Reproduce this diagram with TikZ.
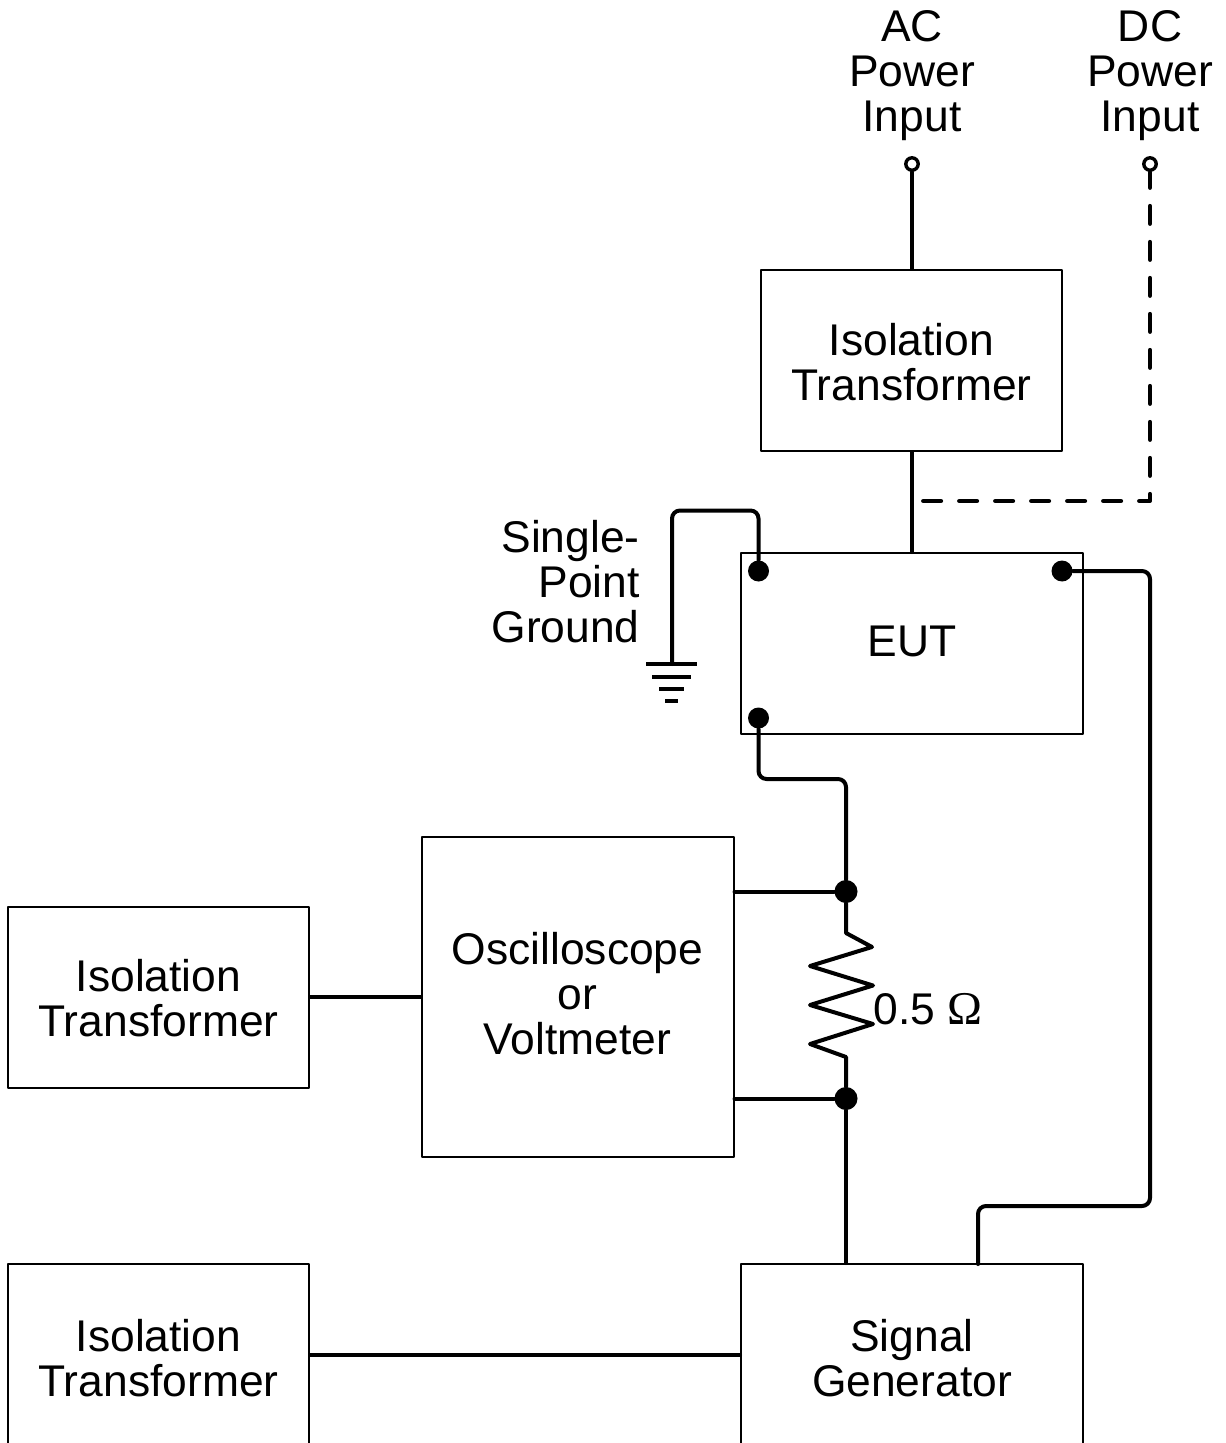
\documentclass[tikz,border=0pt]{standalone}
\usepackage{fontspec}
\setmainfont{Liberation Sans}
\newfontfamily\omegafont{Liberation Serif}
\tikzset{
    unitbox/.style={draw, line width=1pt, inner sep=0pt, align=center, font=\fontsize{22.2}{22.5}\selectfont},
    isobox/.style={unitbox, minimum width=150.5pt, minimum height=90.5pt},
    wider/.style={unitbox, minimum width=171pt},
    label/.style={inner sep=0pt, align=center, font=\fontsize{22.2}{22.5}\selectfont},
    wire/.style={line width=2pt, rounded corners=4pt},
    terminal/.style={circle, draw, fill=white, line width=1.7pt, inner sep=0pt, minimum size=6.2pt},
    junction/.style={circle, fill=black, inner sep=0pt, minimum size=10.5pt},
    bigjunction/.style={circle, fill=black, inner sep=0pt, minimum size=11.5pt}
}

\begin{document}
\begin{tikzpicture}[x=0.5pt, y=-0.5pt, line join=round, line cap=round]
    \clip (0,0) rectangle (1225,1443);

    % power inputs
    \node[label] at (912,76) {AC\\Power\\Input};
    \node[label] at (1150,76) {DC\\Power\\Input};
    \node[terminal] (acin) at (912,164) {};
    \node[terminal] (dcin) at (1150,164) {};

    % boxes
    \node[isobox, text height=40.5pt] (isotop) at (911.5,360.5) {Isolation\\Transformer};
    \node[wider, minimum height=90.5pt, text depth=2pt] (eut) at (912,643.5) {EUT};
    \node[unitbox, minimum width=156pt, minimum height=160pt, text depth=3.5pt] (scope) at (577.5,997) {Oscilloscope\\or\\Voltmeter};
    \node[isobox, text height=39.5pt] (isoleft) at (158.5,997) {Isolation\\Transformer};
    \node[isobox, minimum height=94pt] (isobottom) at (158.5,1358) {Isolation\\Transformer};
    \node[wider, minimum height=94pt] (siggen) at (912,1358) {Signal\\Generator};

    % contact points
    \node[junction] (eutgnd) at (758.5,571) {};
    \node[junction] (eutret) at (758.5,718) {};
    \node[junction] (eutsig) at (1062,571) {};
    \node[bigjunction] (senstop) at (846,891.5) {};
    \node[bigjunction] (sensbot) at (846,1098.5) {};

    % AC path and dashed DC path
    \draw[wire] (acin) -- (acin |- isotop.north);
    \draw[wire] (acin |- isotop.south) -- (acin |- eut.north);
    \coordinate (dcend) at (923,501);
    \draw[wire, rounded corners=0pt, dash pattern=on 9pt off 9pt, dash phase=1pt] (dcin) -- (dcin |- dcend) -- (dcend);

    % single-point ground
    \node[label, align=right, anchor=east] at (640,581.5) {Single-\\Point\\Ground};
    \coordinate (gnd) at (672,664);
    \draw[wire] (eutgnd) -- (758.5,510.5) -- (672,510.5) -- (gnd);
    \draw[line width=2pt, line cap=butt] (646,664) -- (697,664);
    \draw[line width=2pt, line cap=butt] (652,677) -- (691,677);
    \draw[line width=2pt, line cap=butt] (659,689) -- (684,689);
    \draw[line width=2pt, line cap=butt] (665,701) -- (678,701);

    % EUT to sense resistor
    \draw[wire] (eutret) -- (758.5,779) -- (846,779) -- (senstop);
    \draw[wire, rounded corners=0pt] (senstop) -- (846,933) -- (872,947) -- (810,966) -- (873,985.5) -- (810,1005) -- (873,1024) -- (810,1044) -- (846,1057) -- (sensbot);
    \node[label, anchor=base west] at (873,1024.5) {0.5 {\omegafont\fontsize{23.5}{23.5}\selectfont\char"03A9}};
    \draw[wire] (sensbot) -- (sensbot |- siggen.north);

    % scope and generator connections
    \draw[wire] (senstop) -- (senstop -| scope.east);
    \draw[wire] (sensbot) -- (sensbot -| scope.east);
    \draw[wire] (isoleft) -- (scope);
    \draw[wire] ([yshift=1.5pt]isobottom.east) -- ([yshift=1.5pt]siggen.west);
    \coordinate (sigtap) at (978,1264);
    \draw[wire] (eutsig) -- (1150,571) -- (1150,1206) -- (978,1206) -- (sigtap);
\end{tikzpicture}
\end{document}
